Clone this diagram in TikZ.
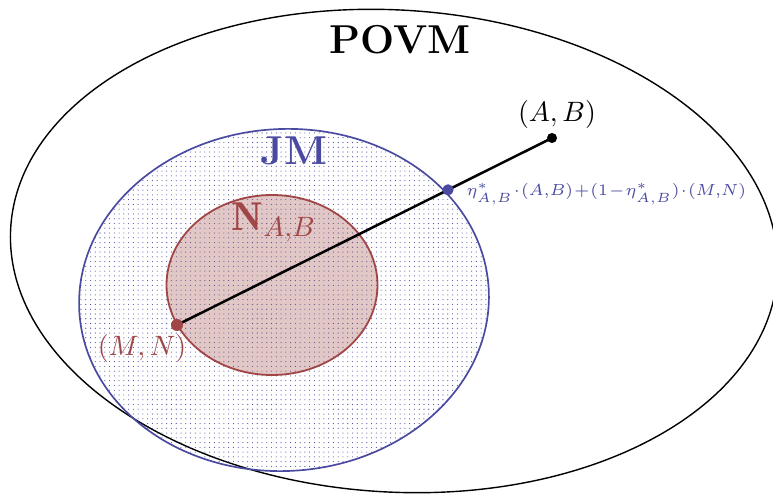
\documentclass[tikz,border=0pt]{standalone}
\usepackage{fontspec}
\usepackage{graphicx}
\usetikzlibrary{patterns,calc}
\definecolor{jmblue}{RGB}{74,74,160}
\definecolor{nred}{RGB}{160,70,70}
\pgfdeclarepatternformonly{finedots}{\pgfpoint{-0.5pt}{-0.5pt}}{\pgfpoint{0.5pt}{0.5pt}}{\pgfpoint{1.7pt}{1.7pt}}{\pgfpathcircle{\pgfpointorigin}{0.2pt}\pgfusepath{fill}}
\newcommand{\opsp}{\mskip1mu}
\tikzset{
  outerline/.style={draw=black, line width=0.5pt},
  jmline/.style={draw=jmblue, line width=0.6pt},
  nline/.style={draw=nred, line width=0.65pt},
  blackdot/.style={circle, fill=black, inner sep=0pt, minimum size=3.6pt},
  reddot/.style={circle, fill=nred, inner sep=0pt, minimum size=4.3pt},
  bluedot/.style={circle, fill=jmblue, inner sep=0pt, minimum size=4pt},
  biglabel/.style={inner sep=0pt, font=\fontsize{14.4}{17}\selectfont},
  ptlabel/.style={inner sep=0pt, font=\fontsize{10}{12}\selectfont},
  etalabel/.style={inner sep=0pt, font=\fontsize{9}{11}\selectfont, text=jmblue}
}
\begin{document}
\begin{tikzpicture}[x=0.01255cm, y=-0.01255cm]
\useasboundingbox (0,0) rectangle (773,495);
\clip (0,0) rectangle (773,495);
% POVM set
\draw[outerline, rotate around={-3.5:(394,251)}]
  (394,251) ellipse [x radius=384, y radius=241];
% JM set
\fill[pattern=finedots, pattern color=jmblue, rotate around={3:(284,300)}]
  (284,300) ellipse [x radius=205, y radius=171];
\draw[jmline, rotate around={3:(284,300)}]
  (284,300) ellipse [x radius=205, y radius=171];
% N_{A,B} set
\fill[nred, opacity=0.3] (272,285) ellipse [x radius=105.5, y radius=90];
\draw[nline] (272,285) ellipse [x radius=105.5, y radius=90];
% points and segment
\coordinate (mn) at (177,325);
\coordinate (ab) at (552,138);
\coordinate (eta) at ($(mn)!0.7227!(ab)$);
\draw[line width=0.9pt] (mn) -- (ab);
\node[reddot] (mndot) at (mn) {};
\node[blackdot] (abdot) at (ab) {};
\node[bluedot] (etadot) at (eta) {};
% labels
\node[biglabel] (povm) at (400,40) {\textbf{POVM}};
\node[biglabel, text=jmblue] (jm) at (294,151) {\textbf{JM}};
\node[biglabel, text=nred] (nab) at (274,222) {$\mathbf{N}_{A,B}$};
\node[ptlabel] (ablabel) at (557,114) {$(A,B)$};
\node[ptlabel, text=nred] (mnlabel) at (142,348) {$(M,N)$};
\node[etalabel, anchor=west] (etalab) at (466,194) {\scalebox{0.955}{$\scriptstyle\eta^*_{A,B}\opsp\cdot\opsp(A,B)\opsp+\opsp(1\opsp-\opsp\eta^*_{A,B})\opsp\cdot\opsp(M,N)$}};
\end{tikzpicture}
\end{document}
